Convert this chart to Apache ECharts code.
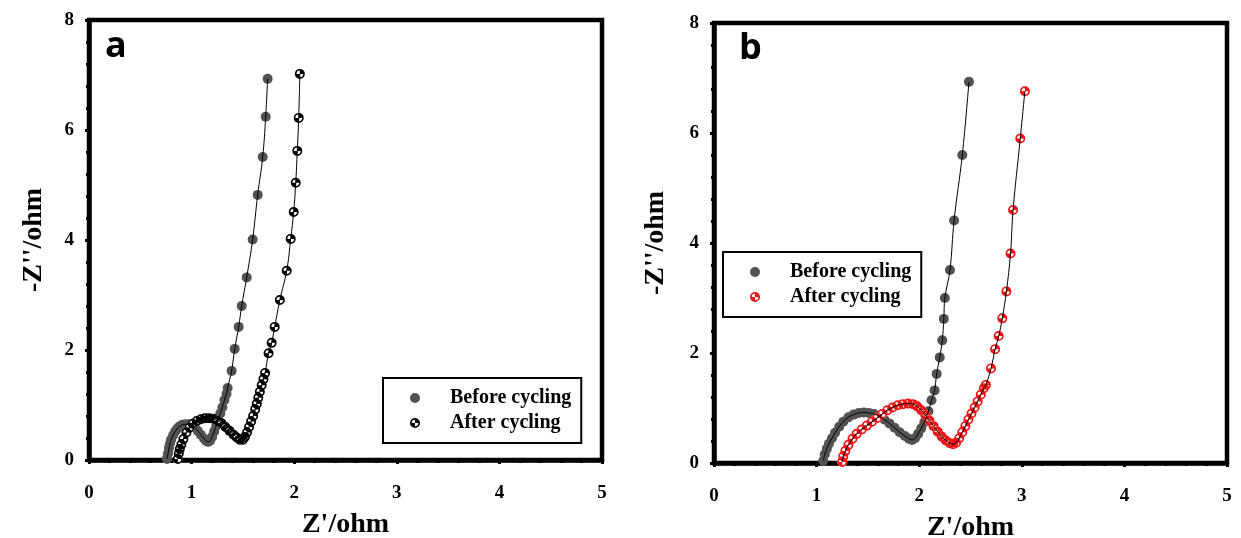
<!DOCTYPE html>
<html>
<head>
<meta charset="utf-8">
<script src="https://cdn.jsdelivr.net/npm/echarts@6/dist/echarts.min.js"></script>
<style>
html,body{margin:0;padding:0;background:#fff;}
#chart{width:1241px;height:538px;}
</style>
</head>
<body>
<div id="chart"></div>
<script>
// ---- data ----
const seriesNames = ['Before cycling', 'After cycling'];
const panelLetters = ['a', 'b'];
const xAxisName = "Z'/ohm";
const yAxisName = "-Z''/ohm";

// Panel a, before cycling
const aBeforeX = [0.76,0.77,0.78,0.79,0.80,0.82,0.84,0.86,0.88,0.91,0.94,0.97,1.00,1.03,1.06,1.09,1.12,1.14,1.16,1.18,1.20,1.22,1.24,1.26,1.28,1.30,1.32,1.34,1.351,1.39,1.42,1.459,1.488,1.537,1.595,1.644,1.693,1.722,1.741];
const aBeforeY = [0.02,0.12,0.22,0.30,0.37,0.45,0.52,0.57,0.61,0.64,0.65,0.65,0.63,0.59,0.53,0.46,0.39,0.35,0.33,0.35,0.42,0.52,0.62,0.75,0.85,0.96,1.09,1.20,1.31,1.62,2.02,2.42,2.80,3.32,4.01,4.82,5.51,6.24,6.93];
// Panel a, after cycling
const aAfterX = [0.866,0.875,0.885,0.90,0.92,0.95,0.98,1.01,1.05,1.09,1.13,1.17,1.21,1.25,1.29,1.33,1.37,1.41,1.44,1.47,1.50,1.52,1.54,1.56,1.58,1.60,1.62,1.635,1.65,1.665,1.683,1.70,1.716,1.75,1.78,1.81,1.86,1.927,1.966,1.995,2.015,2.03,2.044,2.055];
const aAfterY = [0.02,0.12,0.20,0.28,0.38,0.50,0.59,0.66,0.71,0.74,0.76,0.76,0.75,0.72,0.67,0.60,0.53,0.46,0.41,0.37,0.37,0.42,0.50,0.60,0.70,0.80,0.92,1.02,1.13,1.24,1.36,1.47,1.58,1.94,2.13,2.42,2.91,3.44,4.02,4.51,5.04,5.62,6.22,7.02];
// Panel b, before cycling
const bBeforeX = [1.065,1.08,1.10,1.12,1.15,1.18,1.22,1.26,1.31,1.36,1.41,1.46,1.51,1.56,1.61,1.66,1.71,1.76,1.81,1.86,1.90,1.93,1.96,1.99,2.02,2.05,2.07,2.09,2.12,2.15,2.17,2.20,2.225,2.24,2.25,2.30,2.34,2.42,2.485];
const bBeforeY = [0.04,0.16,0.26,0.35,0.45,0.55,0.66,0.75,0.83,0.88,0.91,0.92,0.91,0.89,0.85,0.79,0.72,0.64,0.56,0.49,0.44,0.42,0.45,0.53,0.63,0.74,0.84,0.94,1.14,1.32,1.62,1.92,2.23,2.62,3.00,3.51,4.41,5.60,6.93];
// Panel b, after cycling
const bAfterX = [1.25,1.26,1.28,1.31,1.35,1.39,1.44,1.49,1.54,1.59,1.64,1.69,1.74,1.79,1.84,1.89,1.94,1.98,2.02,2.06,2.10,2.14,2.18,2.22,2.26,2.30,2.33,2.36,2.39,2.42,2.45,2.48,2.51,2.54,2.57,2.60,2.63,2.65,2.70,2.74,2.775,2.81,2.85,2.89,2.915,2.985,3.03];
const bAfterY = [0.02,0.12,0.22,0.33,0.44,0.53,0.61,0.68,0.75,0.82,0.89,0.96,1.01,1.05,1.07,1.08,1.07,1.03,0.96,0.87,0.77,0.67,0.57,0.48,0.41,0.36,0.34,0.37,0.45,0.56,0.67,0.79,0.90,1.01,1.12,1.24,1.36,1.42,1.72,2.07,2.31,2.63,3.12,3.81,4.60,5.90,6.76];

// ---- helpers ----
const pairs = (xs, ys) => xs.map((x, i) => [x, ys[i]]);
const QUARTER = 'path://M10 0A10 10 0 1 1 10 20A10 10 0 1 1 10 0ZM10 3.4A6.6 6.6 0 1 0 10 16.6A6.6 6.6 0 1 0 10 3.4ZM10 10L10 3.4A6.6 6.6 0 0 1 16.6 10ZM10 10L10 16.6A6.6 6.6 0 0 1 3.4 10Z';
const SERIF = 'Liberation Serif';
const GRAY = '#525252';
const RED = '#f01414';

function xAxisOpt(gi) {
  return {
    type: 'value', gridIndex: gi, min: 0, max: 5, interval: 1,
    name: xAxisName, nameLocation: 'middle', nameGap: 51,
    nameTextStyle: {fontFamily: SERIF, fontWeight: 'bold', fontSize: 28, color: '#000'},
    axisLine: {show: true, onZero: false, lineStyle: {color: '#000', width: 4.5}},
    axisTick: {show: true, inside: false, length: 4, lineStyle: {color: '#000', width: 3}},
    minorTick: {show: true, splitNumber: 5, length: 3, lineStyle: {color: '#000', width: 3}},
    splitLine: {show: false},
    axisLabel: {fontFamily: SERIF, fontWeight: 'bold', fontSize: 19, color: '#000', margin: 24}
  };
}
function yAxisOpt(gi, gap) {
  return {
    type: 'value', gridIndex: gi, min: 0, max: 8, interval: 2,
    name: yAxisName, nameLocation: 'middle', nameGap: gap,
    nameTextStyle: {fontFamily: SERIF, fontWeight: 'bold', fontSize: 28, color: '#000'},
    axisLine: {show: true, onZero: false, lineStyle: {color: '#000', width: 4.5}},
    axisTick: {show: true, inside: false, length: 4, lineStyle: {color: '#000', width: 3}},
    minorTick: {show: true, splitNumber: 5, length: 3, lineStyle: {color: '#000', width: 3}},
    splitLine: {show: false},
    axisLabel: {fontFamily: SERIF, fontWeight: 'bold', fontSize: 19, color: '#000', margin: 15}
  };
}
function pointSeries(name, gi, data, symbol, color, z) {
  return {
    type: 'scatter', name: name, xAxisIndex: gi, yAxisIndex: gi, data: data,
    symbol: symbol, symbolSize: 10, symbolKeepAspect: true, z: z, silent: true,
    itemStyle: {color: color, opacity: 1}
  };
}
function underlay(gi, data, z) {
  return {
    type: 'scatter', name: '_bg' + gi, xAxisIndex: gi, yAxisIndex: gi, data: data,
    symbol: 'circle', symbolSize: 10, z: z, silent: true,
    itemStyle: {color: '#ffffff', opacity: 1}
  };
}
function fitLine(gi, data) {
  return {
    type: 'line', xAxisIndex: gi, yAxisIndex: gi, data: data, smooth: 0.4,
    showSymbol: false, z: 10, silent: true,
    lineStyle: {color: '#000', width: 1}
  };
}
function legendOpt(left, top, afterColor) {
  return {
    orient: 'vertical', left: left, top: top,
    padding: [10, 10, 10, 27],
    itemWidth: 10, itemHeight: 10, itemGap: 5,
    borderColor: '#000', borderWidth: 2, backgroundColor: '#fff',
    selectedMode: false,
    textStyle: {fontFamily: SERIF, fontWeight: 'bold', fontSize: 20, lineHeight: 20, color: '#000', padding: [0, 0, 0, 25]},
    data: [
      {name: seriesNames[0], icon: 'circle', itemStyle: {color: GRAY}},
      {name: seriesNames[1], icon: QUARTER, itemStyle: {color: afterColor}}
    ]
  };
}

const aB = pairs(aBeforeX, aBeforeY), aA = pairs(aAfterX, aAfterY);
const bB = pairs(bBeforeX, bBeforeY), bA = pairs(bAfterX, bAfterY);

const chart = echarts.init(document.getElementById('chart'), null, {renderer: 'canvas'});
chart.setOption({
  backgroundColor: '#fff',
  animation: false,
  grid: [
    {left: 89, top: 20, width: 513, height: 440, show: true, borderColor: '#000', borderWidth: 4.5, backgroundColor: 'transparent', containLabel: false, outerBoundsMode: 'none'},
    {left: 714, top: 23, width: 513, height: 440, show: true, borderColor: '#000', borderWidth: 4.5, backgroundColor: 'transparent', containLabel: false, outerBoundsMode: 'none'}
  ],
  xAxis: [xAxisOpt(0), xAxisOpt(1)],
  yAxis: [yAxisOpt(0, 41), yAxisOpt(1, 44)],
  legend: [legendOpt(383, 378, '#000'), legendOpt(723, 252, RED)],
  graphic: [
    {type: 'text', left: 105, top: 29, style: {text: panelLetters[0], font: 'bold 36px "Open Sans"', fill: '#000'}},
    {type: 'text', left: 739, top: 31, style: {text: panelLetters[1], font: 'bold 36px "Open Sans"', fill: '#000'}}
  ],
  series: [
    pointSeries(seriesNames[0], 0, aB, 'circle', GRAY, 3),
    underlay(0, aA, 4),
    pointSeries(seriesNames[1], 0, aA, QUARTER, '#000', 5),
    fitLine(0, aB),
    fitLine(0, aA),
    pointSeries(seriesNames[0], 1, bB, 'circle', GRAY, 3),
    underlay(1, bA, 4),
    pointSeries(seriesNames[1], 1, bA, QUARTER, RED, 5),
    fitLine(1, bB),
    fitLine(1, bA)
  ]
});
</script>
</body>
</html>
